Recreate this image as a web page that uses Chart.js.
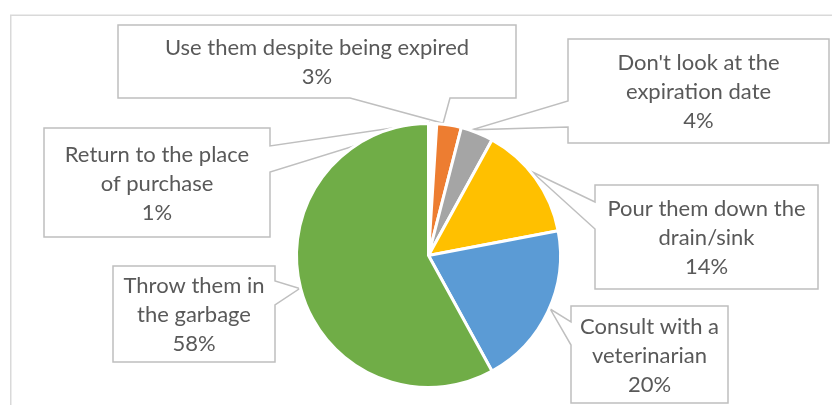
<!DOCTYPE html>
<html>
<head>
<meta charset="utf-8">
<script src="https://cdn.jsdelivr.net/npm/chart.js@4/dist/chart.umd.min.js"></script>
<style>
  html, body { margin: 0; padding: 0; background: #ffffff; }
  #wrap { width: 832px; height: 405px; position: relative; }
</style>
</head>
<body>
<div id="wrap"><canvas id="c" width="832" height="405"></canvas></div>
<script>
// What people do with expired medicines
const categories = [
  "Return to the place of purchase",
  "Use them despite being expired",
  "Don't look at the expiration date",
  "Pour them down the drain/sink",
  "Consult with a veterinarian",
  "Throw them in the garbage"
];
const shares = [1, 3, 4, 14, 20, 58];
// How each category name wraps inside its callout
const labelLines = [
  ["Return to the place", "of purchase"],
  ["Use them despite being expired"],
  ["Don't look at the", "expiration date"],
  ["Pour them down the", "drain/sink"],
  ["Consult with a", "veterinarian"],
  ["Throw them in", "the garbage"]
];
const sliceColors = ["#FFFFFF", "#ED7D31", "#A5A5A5", "#FFC000", "#5B9BD5", "#70AD47"];

// Callout boxes: [x, y, w, h], which side the pointer leaves from,
// the two ends of the pointer base on that side, and where along the slice it points
const callouts = [
  { box: [44, 128, 226, 109], side: "right",  a: 146, b: 172, at: 0.18 },
  { box: [118, 25, 398, 73],  side: "bottom", a: 350, b: 450, at: 0.25 },
  { box: [568, 39, 261, 104], side: "left",   a: 101, b: 127, at: 0.32 },
  { box: [595, 185, 223, 104], side: "left",  a: 202, b: 229, at: 0.44 },
  { box: [571, 306, 157, 97], side: "left",   a: 322, b: 345, at: 0.48 },
  { box: [113, 266, 162, 96], side: "right",  a: 281, b: 305, at: 0.50 }
];

const FONT = "22px Lato, 'Open Sans', sans-serif";
const TEXT_COLOR = "#595959";
const LINE_H = 29;

const frame = {
  id: "frame",
  beforeDraw(chart) {
    const ctx = chart.ctx;
    ctx.save();
    ctx.strokeStyle = "#D9D9D9";
    ctx.lineWidth = 1.5;
    ctx.strokeRect(10.75, 15.25, 900, 500);
    ctx.restore();
  }
};

const calloutPlugin = {
  id: "callouts",
  beforeDatasetsDraw(chart) {
    const ctx = chart.ctx;
    const meta = chart.getDatasetMeta(0);
    ctx.save();
    callouts.forEach((c, i) => {
      const arc = meta.data[i];
      const ang = arc.startAngle + (arc.endAngle - arc.startAngle) * c.at;
      const r = arc.outerRadius + 1;
      const tx = arc.x + Math.cos(ang) * r;
      const ty = arc.y + Math.sin(ang) * r;
      const [x, y, w, h] = c.box;
      const pts = [];
      if (c.side === "bottom") {
        pts.push([x, y], [x + w, y], [x + w, y + h], [c.b, y + h], [tx, ty], [c.a, y + h], [x, y + h]);
      } else if (c.side === "left") {
        pts.push([x, y], [x + w, y], [x + w, y + h], [x, y + h], [x, c.b], [tx, ty], [x, c.a]);
      } else {
        pts.push([x, y], [x + w, y], [x + w, c.a], [tx, ty], [x + w, c.b], [x + w, y + h], [x, y + h]);
      }
      ctx.beginPath();
      pts.forEach((p, k) => (k ? ctx.lineTo(p[0], p[1]) : ctx.moveTo(p[0], p[1])));
      ctx.closePath();
      ctx.fillStyle = "#FFFFFF";
      ctx.fill();
      ctx.strokeStyle = "#BFBFBF";
      ctx.lineWidth = 1.5;
      ctx.lineJoin = "miter";
      ctx.stroke();

      const lines = labelLines[i].concat([shares[i] + "%"]);
      ctx.fillStyle = TEXT_COLOR;
      ctx.font = FONT;
      ctx.textAlign = "center";
      ctx.textBaseline = "middle";
      const cx = x + w / 2, cy = y + h / 2;
      lines.forEach((t, j) => {
        ctx.fillText(t, cx, cy + (j - (lines.length - 1) / 2) * LINE_H + 1);
      });
    });
    ctx.restore();
  }
};

new Chart(document.getElementById("c"), {
  type: "pie",
  data: {
    labels: categories,
    datasets: [{
      data: shares,
      backgroundColor: sliceColors,
      borderColor: "#FFFFFF",
      borderWidth: 3,
      radius: 132
    }]
  },
  options: {
    responsive: false,
    animation: false,
    events: [],
    layout: { padding: { left: 25, right: 0, top: 106, bottom: 0 } },
    plugins: { legend: { display: false }, tooltip: { enabled: false } }
  },
  plugins: [frame, calloutPlugin]
});
</script>
</body>
</html>
